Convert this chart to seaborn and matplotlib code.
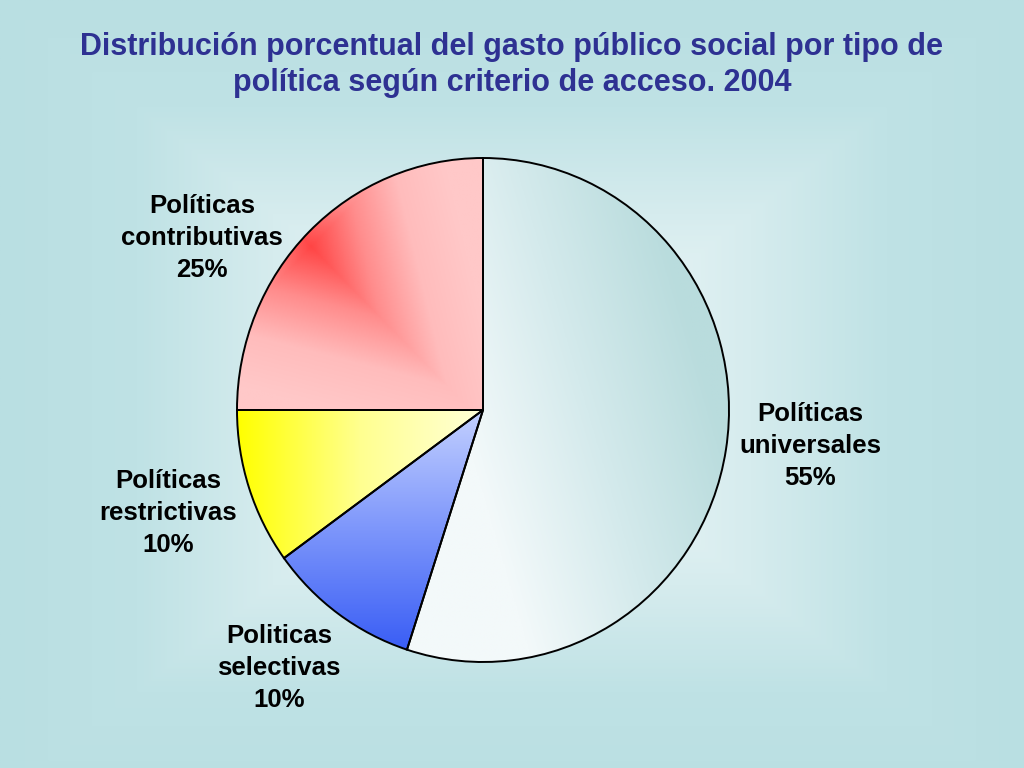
import numpy as np
import matplotlib
matplotlib.use("Agg")
import matplotlib.pyplot as plt
from matplotlib.colors import LinearSegmentedColormap
import seaborn as sns

# data
labels = ["Políticas\nuniversales\n55%", "Politicas\nselectivas\n10%",
          "Políticas\nrestrictivas\n10%", "Políticas\ncontributivas\n25%"]
shares = [55, 10, 10, 25]

sns.set_theme(style="white")
plt.rcParams['font.family'] = ['Liberation Sans', 'DejaVu Sans']

W, H = 1024, 768
fig = plt.figure(figsize=(W / 100, H / 100), dpi=100)

# background: light teal, lighter towards the middle
bg = fig.add_axes([0, 0, 1, 1])
bg.set_axis_off()
yy, xx = np.mgrid[0:1:300j, 0:1:400j]
d = np.maximum(np.abs(xx - 0.5) / 0.5, np.abs(yy - 0.52) / 0.52)
bg_cmap = LinearSegmentedColormap.from_list("bg", ["#e9f5f6", "#d6ecee", "#bfe2e5", "#b9dfe2"])
bg.imshow(d, cmap=bg_cmap, extent=(0, 1, 0, 1), aspect="auto", vmin=0.2, vmax=1.0)
bg.set_xlim(0, 1)
bg.set_ylim(0, 1)

fig.text(0.5, 1 - 47 / H, "Distribución porcentual del gasto público social por tipo de",
         ha="center", va="center", fontsize=22, fontweight="bold", color="#2e3192")
fig.text(0.5, 1 - 83 / H, "política según criterio de acceso. 2004",
         ha="center", va="center", fontsize=22, fontweight="bold", color="#2e3192")

# pie axes sized to the pie's bounding box
left, right, top, bottom = 237, 729, 158, 662
ax = fig.add_axes([left / W, 1 - bottom / H, (right - left) / W, (bottom - top) / H])
wedges, _ = ax.pie(shares, startangle=90, counterclock=False, radius=1,
                   colors=["#dff0f0", "#7f98ff", "#ffff80", "#ffb0b0"],
                   wedgeprops=dict(edgecolor="black", linewidth=1.4))
ax.set_aspect("auto")
ax.set_xlim(-1, 1)
ax.set_ylim(-1, 1)
ax.set_axis_off()

gy, gx = np.mgrid[1:-1:400j, -1:1:400j]
red_d = np.abs((gx + 0.70) + (gy - 0.65)) * 0.75 + np.abs((gx + 0.70) - (gy - 0.65)) * 0.45
fills = [
    (np.clip((gx + 0.3 * gy + 0.1) / 1.05, 0, 1), ["#f3f9fa", "#d4eaec", "#b9dcdd"]),
    (np.clip((gy + 0.95) / 0.95, 0, 1), ["#3a5ef5", "#7d96fb", "#c3d0ff"]),
    (np.clip((gx + 1.0) / 1.0, 0, 1), ["#ffff00", "#ffff90", "#ffffd8"]),
    (np.clip(red_d / 0.75, 0, 1), ["#ff4545", "#ff8c8c", "#ffbcbc", "#ffc8c8"]),
]
for w, (grad, cols) in zip(wedges, fills):
    cm = LinearSegmentedColormap.from_list("f", cols)
    im = ax.imshow(grad, cmap=cm, extent=(-1, 1, -1, 1), aspect="auto", vmin=0, vmax=1, zorder=1)
    im.set_clip_path(w)
    w.set_facecolor("none")
    w.set_zorder(2)

label_px = [(810, 446), (279, 668), (168, 513), (202, 238)]
for txt, (px, py) in zip(labels, label_px):
    fig.text(px / W, 1 - py / H, txt, ha="center", va="center", fontsize=18.5,
             fontweight="bold", color="black", linespacing=1.4)

fig.savefig("out.png", dpi=100)
